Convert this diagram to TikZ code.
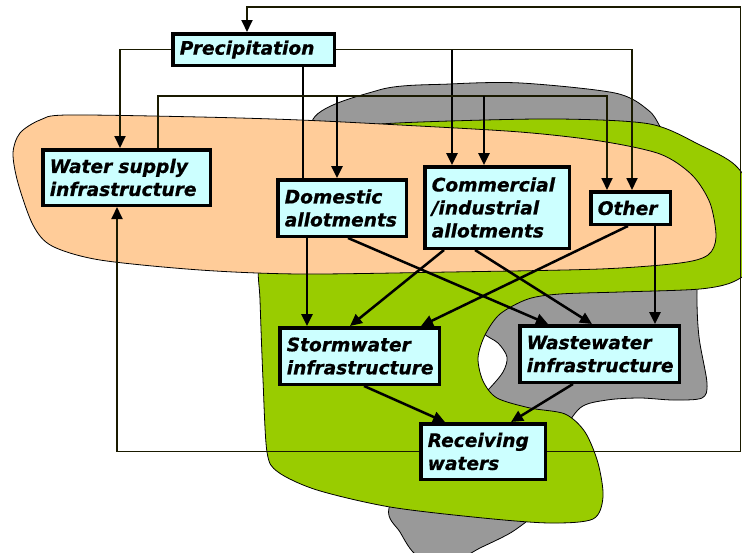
\documentclass[tikz,border=0pt]{standalone}
\usepackage{fontspec}
\setmainfont[BoldItalicFeatures={FakeBold=0.7}]{DejaVu Sans}
\usetikzlibrary{arrows.meta,calc}

\definecolor{boxcyan}{HTML}{CCFFFF}
\definecolor{landpeach}{HTML}{FFCC99}
\definecolor{landgreen}{HTML}{99CC00}
\definecolor{landgray}{HTML}{999999}
\definecolor{wireolive}{HTML}{1A1A00}

\tikzset{
  flowbox/.style={draw=black, line width=3.5pt, fill=boxcyan, inner xsep=7pt, inner ysep=2pt,
    align=left, font=\fontsize{18.6}{23}\selectfont\bfseries\itshape},
  flow/.style={line width=2.5pt, -{Triangle[length=12pt,width=11pt]}},
  wire/.style={draw=wireolive, line width=1.8pt, -{Triangle[length=12pt,width=11pt,color=black]}},
  blob/.style={draw=black, line width=0.8pt},
}

\begin{document}
\begin{tikzpicture}[x=1pt,y=-1pt]

\useasboundingbox (0,0) rectangle (742,552);
\clip (0,0) rectangle (742,552);

% land areas
\draw[blob, fill=landgray] plot[smooth cycle] coordinates {
  (312,126) (379,90) (450,84) (521,83) (615,93) (648,110) (662,130)
  (700,200) (697,292) (699,337) (707,383) (702,398) (673,400) (640,398)
  (607,400) (580,408) (560,440) (540,505) (515,530) (480,548) (455,560)
  (418,556) (400,532) (389,508) (420,450) (465,412) (488,390) (503,372)
  (507,357) (498,343) (482,332) (455,300) (410,220)};
\draw[blob, fill=landgreen] plot[smooth cycle] coordinates {
  (259,260) (275,180) (320,135) (369,125) (450,121) (560,119) (650,124)
  (700,145) (735,165) (752,195) (752,262) (735,281) (700,289) (620,292)
  (560,294) (528,299) (500,314) (485,335) (478,358) (483,381) (497,398)
  (530,408) (565,414) (585,432) (598,463) (603,497) (593,519) (550,523)
  (483,518) (390,507) (317,490) (278,472) (267,452) (263,380) (260,300)};
\draw[blob, fill=landpeach] plot[smooth cycle] coordinates {
  (40,120) (67,115) (200,117) (300,120) (400,125) (520,132) (600,141)
  (660,154) (692,175) (710,203) (716,237) (708,255) (680,263) (600,269)
  (450,272) (300,274) (200,270) (100,260) (52,246) (33,225) (18,183)
  (13,153) (20,133)};

% boxes
\node[flowbox, text width=147.5pt, minimum height=31.5pt] (precip) at (253.5,49.5) {Precipitation};
\node[flowbox, text width=153.5pt, minimum height=55.5pt] (water) at (126.5,177.5) {Water supply\\infrastructure};
\node[flowbox, text width=114.5pt, minimum height=56.5pt] (domestic) at (342,208) {Domestic\\allotments};
\node[flowbox, text width=130.5pt, minimum height=81.5pt] (comm) at (497,207.5) {Commercial\\/industrial\\allotments};
\node[flowbox, text width=65.5pt, minimum height=32.5pt] (other) at (630.5,208) {Other};
\node[flowbox, text width=145.5pt, minimum height=56.5pt] (storm) at (359.5,356) {Stormwater\\infrastructure};
\node[flowbox, text width=145.5pt, minimum height=56.5pt] (waste) at (599.5,354) {Wastewater\\infrastructure};
\node[flowbox, text width=110.5pt, minimum height=55.5pt] (recv) at (483,451.5) {Receiving\\waters};

% rain
\draw[wire] (precip.west) -| ([xshift=-6.5pt]water.north);
\draw[wire] (precip.east) -| ([xshift=1.5pt]other.north);
\coordinate (c1) at ([xshift=-45pt]comm.north);
\draw[flow] (precip.east -| c1) -- (c1);
\coordinate (p1) at ([xshift=49.5pt]precip.south);
\draw[line width=2.5pt] (p1) -- (p1 |- domestic.north);

% supply
\coordinate (w1) at ([xshift=31.5pt]water.north);
\coordinate (bus) at (0,96);
\draw[wire] (w1) -- (w1 |- bus) -| ([xshift=-23.5pt]other.north);
\coordinate (d2) at ([xshift=-5pt]domestic.north);
\draw[flow] (d2 |- bus) -- (d2);
\coordinate (c2) at ([xshift=-13pt]comm.north);
\draw[flow] (c2 |- bus) -- (c2);

% runoff and sewage
\coordinate (d1) at ([xshift=-35pt]domestic.south);
\draw[flow] (d1) -- (d1 |- storm.north);
\draw[flow] ([xshift=6pt]domestic.south) -- ([xshift=-51.5pt]waste.north);
\draw[flow] ([xshift=-53pt]comm.south) -- ([xshift=-9.5pt]storm.north);
\draw[flow] ([xshift=-22pt]comm.south) -- ([xshift=-7.5pt]waste.north);
\draw[flow] ([xshift=-2.5pt]other.south) -- ([xshift=61.5pt]storm.north);
\coordinate (o1) at ([xshift=24.5pt]other.south);
\draw[flow] (o1) -- (o1 |- waste.north);
\draw[flow] ([xshift=4.5pt]storm.south) -- ([xshift=-38pt]recv.north);
\draw[flow] ([xshift=-26.5pt]waste.south) -- ([xshift=28pt]recv.north);

% back to the start
\draw[wire] (recv.west) -| ([xshift=-9.5pt]water.south);
\coordinate (loop) at (740.5,7);
\draw[wire] (recv.east) -| (loop) -| ([xshift=-6.5pt]precip.north);

\end{tikzpicture}
\end{document}
